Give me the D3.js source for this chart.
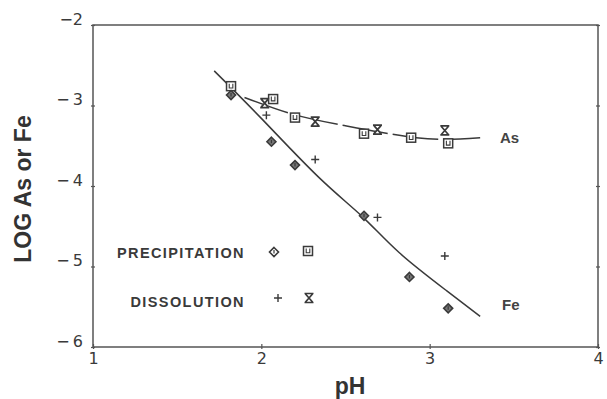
<html>
<head>
<style>
  body { margin: 0; background: #fff; }
  text { font-family: "Liberation Sans", Arial, sans-serif; }
</style>
</head>
<body>
<svg id="chart"></svg>
<script src="https://d3js.org/d3.v7.min.js"></script>
<script>
// values
var precipFeX = [1.82, 2.06, 2.20, 2.61, 2.88, 3.11]
var precipFeY = [-2.87, -3.45, -3.74, -4.37, -5.13, -5.52]
var precipAsX = [1.82, 2.07, 2.20, 2.61, 2.89, 3.11]
var precipAsY = [-2.76, -2.92, -3.15, -3.35, -3.40, -3.47]
var dissolFeX = [2.03, 2.32, 2.69, 3.09]
var dissolFeY = [-3.12, -3.67, -4.39, -4.87]
var dissolAsX = [2.02, 2.32, 2.69, 3.09]
var dissolAsY = [-2.97, -3.20, -3.30, -3.31]

// hand fitted curves
var feCurveX = [1.72, 2.0, 2.34, 2.6, 2.82, 3.1, 3.3]
var feCurveY = [-2.57, -3.16, -3.89, -4.38, -4.83, -5.30, -5.62]
var asCurveX = [1.90, 2.19, 2.47, 2.70, 2.92, 3.10, 3.30]
var asCurveY = [-2.90, -3.11, -3.24, -3.33, -3.40, -3.42, -3.40]

var xTicks = [1, 2, 3, 4]
var yTicks = [-6, -5, -4, -3, -2]
var legendLabels = ["PRECIPITATION", "DISSOLUTION"]

var width = 607, height = 399
var pLeft = 93, pRight = 598, pTop = 25, pBottom = 347
var ink = "#3a3a3a", axisInk = "#555"

var svg = d3.select('#chart').attr('width', width).attr('height', height)

var x = d3.scaleLinear().domain([1, 4]).range([pLeft, pRight])
var y = d3.scaleLinear().domain([-6, -2]).range([pBottom, pTop])

function pairs(xs, ys) { return xs.map(function(v, i) { return [v, ys[i]] }) }

// frame
svg.append('rect')
   .attr('x', pLeft).attr('y', pTop)
   .attr('width', pRight - pLeft).attr('height', pBottom - pTop)
   .attr('fill', 'none').attr('stroke', axisInk).attr('stroke-width', 1.5)

var minus = function(d) { return d === -2 ? "\u22122" : "\u2212\u2009" + Math.abs(d) }

var gLeft = svg.append('g').attr('transform', 'translate(' + pLeft + ',0)')
   .call(d3.axisLeft(y).tickValues(yTicks).tickSize(2).tickFormat(minus))
var gRight = svg.append('g').attr('transform', 'translate(' + pRight + ',0)')
   .call(d3.axisRight(y).tickValues(yTicks).tickSize(2).tickFormat(''))
var gBottom = svg.append('g').attr('transform', 'translate(0,' + pBottom + ')')
   .call(d3.axisBottom(x).tickValues(xTicks).tickSize(2).tickFormat(d3.format('d')))

;[gLeft, gRight, gBottom].forEach(function(g) {
  g.select('.domain').remove()
  g.selectAll('line').attr('stroke', axisInk).attr('stroke-width', 1.2)
})
gLeft.selectAll('line').attr('x1', 2).attr('x2', -2)
gRight.selectAll('line').attr('x1', -2).attr('x2', 2)
gBottom.selectAll('line').attr('y1', -3).attr('y2', 2)
gLeft.selectAll('text').attr('font-size', 16).attr('fill', '#3a3a3a')
     .attr('x', -10).attr('dy', '-0.05em').style('font-family', 'DejaVu Sans')
gBottom.selectAll('text').attr('font-size', 16).attr('fill', '#3a3a3a')
     .attr('y', 6).style('font-family', 'DejaVu Sans')

// axis titles
svg.append('text')
   .attr('transform', 'translate(31,189) rotate(-90)')
   .attr('text-anchor', 'middle').attr('font-size', 23).attr('font-weight', 'bold')
   .attr('fill', '#333').text('LOG As or Fe')
svg.append('text')
   .attr('x', 350).attr('y', 394).attr('text-anchor', 'middle')
   .attr('font-size', 23).attr('font-weight', 'bold').attr('fill', '#333').text('pH')

// fitted curves
var line = d3.line().x(function(d) { return x(d[0]) }).y(function(d) { return y(d[1]) })
   .curve(d3.curveNatural)
svg.append('path').datum(pairs(feCurveX, feCurveY))
   .attr('d', line).attr('fill', 'none').attr('stroke', ink).attr('stroke-width', 1.5)
svg.append('path').datum(pairs(asCurveX, asCurveY))
   .attr('d', line).attr('fill', 'none').attr('stroke', ink).attr('stroke-width', 1.5)
   .attr('stroke-dasharray', '46,5')

svg.append('text').attr('x', 500).attr('y', 143).attr('font-size', 15)
   .attr('font-weight', 'bold').attr('fill', '#444').text('As')
svg.append('text').attr('x', 502).attr('y', 310).attr('font-size', 15)
   .attr('font-weight', 'bold').attr('fill', '#444').text('Fe')

// marker drawers
function diamond(g, fill) {
  g.append('path').attr('d', 'M0,-4.5L4.5,0L0,4.5L-4.5,0Z')
   .attr('fill', fill).attr('stroke', ink).attr('stroke-width', 1.6)
  g.append('path').attr('d', 'M0,-2V1.5').attr('stroke', ink).attr('stroke-width', 1.2)
}
function square(g) {
  g.append('rect').attr('x', -4.5).attr('y', -4.5).attr('width', 9).attr('height', 9)
   .attr('fill', '#fff').attr('stroke', ink).attr('stroke-width', 1.5)
  g.append('path').attr('d', 'M-1.8,-2.5V1.8H1.8V-2.5')
   .attr('fill', 'none').attr('stroke', ink).attr('stroke-width', 1.1)
}
function plus(g) {
  g.append('path').attr('d', 'M-4,0H4M0,-4V4').attr('stroke', ink).attr('stroke-width', 1.4)
}
function hourglass(g) {
  g.append('path').attr('d', 'M-4.5,-4.5H4.5L0.8,0L4.5,4.5H-4.5L-0.8,0Z')
   .attr('fill', '#fff').attr('stroke', 'none')
  g.append('path').attr('d', 'M-4.5,-4.5H4.5M-4.5,4.5H4.5M-3.5,-4L3.5,4M3.5,-4L-3.5,4')
   .attr('stroke', ink).attr('stroke-width', 1.7)
}

function drawSeries(xs, ys, drawer, arg) {
  svg.append('g').selectAll('g')
     .data(pairs(xs, ys))
     .enter().append('g')
     .attr('transform', function(d) { return 'translate(' + x(d[0]) + ',' + y(d[1]) + ')' })
     .each(function() { drawer(d3.select(this), arg) })
}

drawSeries(precipAsX, precipAsY, square)
drawSeries(precipFeX, precipFeY, diamond, '#777')
drawSeries(dissolFeX, dissolFeY, plus)
drawSeries(dissolAsX, dissolAsY, hourglass)

// legend
var legend = svg.append('g')
legend.selectAll('text').data(legendLabels).enter().append('text')
   .attr('x', 245).attr('y', function(d, i) { return 258 + i * 49 })
   .attr('text-anchor', 'end').attr('font-size', 14.5).attr('font-weight', 'bold')
   .attr('letter-spacing', 1.4).attr('fill', '#3a3a3a')
   .text(function(d) { return d })
diamond(legend.append('g').attr('transform', 'translate(274,252)'), '#fff')
square(legend.append('g').attr('transform', 'translate(308,251)'))
plus(legend.append('g').attr('transform', 'translate(278,298)'))
hourglass(legend.append('g').attr('transform', 'translate(309,298)'))
</script>
</body>
</html>
